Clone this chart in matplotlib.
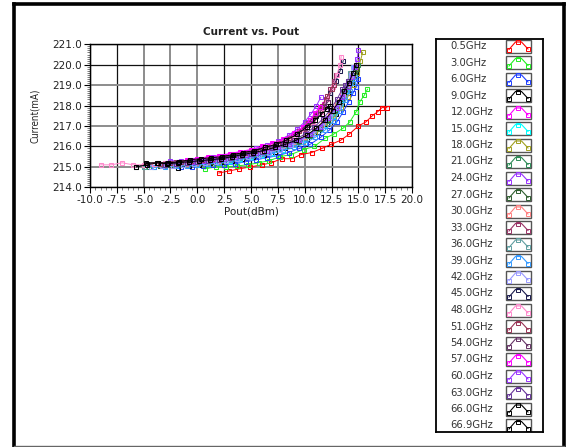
import numpy as np
import matplotlib.pyplot as plt
from matplotlib.lines import Line2D
from matplotlib.patches import Rectangle

labels = ["0.5GHz", "3.0GHz", "6.0GHz", "9.0GHz", "12.0GHz", "15.0GHz", "18.0GHz", "21.0GHz",
          "24.0GHz", "27.0GHz", "30.0GHz", "33.0GHz", "36.0GHz", "39.0GHz", "42.0GHz", "45.0GHz",
          "48.0GHz", "51.0GHz", "54.0GHz", "57.0GHz", "60.0GHz", "63.0GHz", "66.0GHz", "66.9GHz"]
colors = ["#ff0000", "#22ee22", "#1f3fff", "#000000", "#ff00ff", "#00ffff", "#a0a020", "#2e8b57",
          "#9933ff", "#2f5f2f", "#ff8080", "#993366", "#5f9ea0", "#3399ff", "#9999ff", "#1a1a4d",
          "#ff88cc", "#993355", "#663366", "#ff00ff", "#9933ff", "#663399", "#000000", "#000000"]

pout = [
    [2.0, 2.95, 3.9, 4.95, 6.0, 6.9, 7.85, 8.8, 9.65, 10.65, 11.6, 12.45, 13.35, 14.15, 15.0, 15.7, 16.3, 16.8, 17.2, 17.65],
    [0.7, 1.7, 2.7, 3.7, 4.7, 5.7, 6.7, 7.7, 8.7, 9.9, 10.9, 11.9, 12.7, 13.6, 14.2, 14.8, 15.15, 15.55, 15.85],
    [-1.5, -0.5, 0.5, 1.5, 2.5, 3.5, 4.5, 5.5, 6.5, 7.5, 8.5, 9.5, 10.5, 11.5, 12.3, 13.0, 13.6, 14.1, 14.5, 14.8, 15.0],
    [-1.8, -0.8, 0.2, 1.2, 2.2, 3.2, 4.2, 5.2, 6.2, 7.2, 8.2, 9.2, 10.2, 11.2, 12.1, 12.9, 13.5, 14.0, 14.4, 14.7, 14.85],
    [-1.0, 0.0, 1.0, 2.0, 3.0, 4.0, 5.0, 6.0, 7.0, 8.0, 9.0, 9.8, 10.5, 11.1, 11.5, 11.8],
    [-5.0, -4.0, -3.0, -2.0, -1.0, 0.0, 1.0, 2.0, 3.0, 4.0, 5.0, 6.0, 7.0, 8.0, 9.0, 10.0, 11.0, 11.9, 12.7, 13.4, 13.9, 14.3, 14.6],
    [-3.0, -2.0, -1.0, 0.0, 1.0, 2.0, 3.0, 4.0, 5.0, 6.0, 7.0, 8.0, 9.0, 10.0, 11.0, 11.9, 12.7, 13.4, 14.0, 14.5, 14.9, 15.2, 15.4],
    [-4.5, -3.5, -2.5, -1.5, -0.5, 0.5, 1.5, 2.5, 3.5, 4.5, 5.5, 6.5, 7.5, 8.5, 9.5, 10.5, 11.4, 12.2, 12.9, 13.5, 14.0, 14.4, 14.7, 15.0],
    [-2.5, -1.5, -0.5, 0.5, 1.5, 2.5, 3.5, 4.5, 5.5, 6.5, 7.5, 8.5, 9.3, 10.0, 10.6, 11.1, 11.5],
    [-3.5, -2.5, -1.5, -0.5, 0.5, 1.5, 2.5, 3.5, 4.5, 5.5, 6.5, 7.5, 8.5, 9.5, 10.5, 11.4, 12.2, 12.9, 13.5, 14.0, 14.4, 14.7, 14.9],
    [-4.0, -3.0, -2.0, -1.0, 0.0, 1.0, 2.0, 3.0, 4.0, 5.0, 6.0, 7.0, 8.0, 9.0, 10.0, 10.9, 11.7, 12.4, 13.0, 13.5, 13.9, 14.2, 14.35],
    [-3.0, -2.0, -1.0, 0.0, 1.0, 2.0, 3.0, 4.0, 5.0, 6.0, 7.0, 8.0, 9.0, 9.9, 10.7, 11.4, 12.0, 12.4, 12.7, 12.9],
    [-5.0, -4.0, -3.0, -2.0, -1.0, 0.0, 1.0, 2.0, 3.0, 4.0, 5.0, 6.0, 7.0, 8.0, 9.0, 10.0, 10.9, 11.8, 12.5, 13.1, 13.6, 14.0, 14.2],
    [-4.0, -3.0, -2.0, -1.0, 0.0, 1.0, 2.0, 3.0, 4.0, 5.0, 6.0, 7.0, 8.0, 9.0, 10.0, 11.0, 11.9, 12.7, 13.3, 13.8, 14.2, 14.5, 14.7],
    [-4.3, -3.3, -2.3, -1.3, -0.3, 0.7, 1.7, 2.7, 3.7, 4.7, 5.7, 6.7, 7.7, 8.7, 9.7, 10.7, 11.6, 12.4, 13.1, 13.6, 14.0, 14.3, 14.5],
    [-5.7, -4.7, -3.7, -2.7, -1.7, -0.7, 0.3, 1.3, 2.3, 3.3, 4.3, 5.3, 6.3, 7.3, 8.3, 9.3, 10.3, 11.1, 11.8, 12.4, 12.9, 13.3, 13.6],
    [-9.0, -8.0, -7.0, -6.0, -5.0, -4.0, -3.0, -2.0, -1.0, 0.0, 1.0, 2.0, 3.0, 4.0, 5.0, 6.0, 7.0, 8.0, 9.0, 10.0, 10.8, 11.5, 12.1, 12.6, 13.0, 13.3, 13.4],
    [-3.5, -2.5, -1.5, -0.5, 0.5, 1.5, 2.5, 3.5, 4.5, 5.5, 6.5, 7.5, 8.5, 9.5, 10.3, 11.0, 11.6, 12.1, 12.5, 12.7],
    [-2.8, -1.8, -0.8, 0.2, 1.2, 2.2, 3.2, 4.2, 5.2, 6.2, 7.2, 8.2, 9.2, 10.0, 10.7, 11.3, 11.8, 12.2],
    [-1.0, 0.0, 1.0, 2.0, 3.0, 4.0, 5.0, 6.0, 7.0, 8.0, 9.0, 9.8, 10.5, 11.0, 11.4],
    [-0.5, 0.5, 1.5, 2.5, 3.5, 4.5, 5.5, 6.5, 7.5, 8.5, 9.5, 10.5, 11.4, 12.2, 12.9, 13.5, 14.0, 14.4, 14.7, 14.9, 15.0],
    [-3.0, -2.0, -1.0, 0.0, 1.0, 2.0, 3.0, 4.0, 5.0, 6.0, 7.0, 8.0, 9.0, 10.0, 10.9, 11.7, 12.4, 13.0, 13.5, 13.8, 14.0],
    [-4.8, -3.8, -2.8, -1.8, -0.8, 0.2, 1.2, 2.2, 3.2, 4.2, 5.2, 6.2, 7.2, 8.2, 9.2, 10.2, 11.1, 11.9, 12.6, 13.2, 13.7, 14.1, 14.5, 14.8],
    [-5.7, -4.7, -3.7, -2.7, -1.7, -0.7, 0.3, 1.3, 2.3, 3.3, 4.3, 5.3, 6.3, 7.3, 8.3, 9.3, 10.2, 11.0, 11.6, 12.1, 12.4],
]

current = [
    [214.7, 214.8, 214.9, 215.0, 215.1, 215.2, 215.4, 215.4, 215.6, 215.7, 215.9, 216.1, 216.3, 216.6, 217.0, 217.2, 217.5, 217.7, 217.9, 217.9],
    [214.9, 215.0, 215.0, 215.05, 215.1, 215.2, 215.3, 215.5, 215.6, 215.85, 216.0, 216.4, 216.6, 216.9, 217.2, 217.7, 218.2, 218.5, 218.8],
    [215.0, 215.0, 215.05, 215.1, 215.1, 215.15, 215.25, 215.35, 215.45, 215.55, 215.7, 215.9, 216.1, 216.45, 216.8, 217.2, 217.7, 218.2, 218.6, 218.9, 219.3],
    [214.95, 215.05, 215.1, 215.2, 215.25, 215.3, 215.4, 215.5, 215.6, 215.75, 215.9, 216.1, 216.35, 216.7, 217.1, 217.6, 218.1, 218.6, 219.0, 219.4, 219.7],
    [215.3, 215.4, 215.45, 215.5, 215.6, 215.7, 215.8, 215.95, 216.1, 216.3, 216.6, 216.9, 217.3, 217.6, 217.9, 218.1],
    [215.0, 215.0, 215.05, 215.05, 215.1, 215.1, 215.15, 215.2, 215.3, 215.4, 215.5, 215.6, 215.7, 215.85, 216.05, 216.3, 216.65, 217.05, 217.5, 218.1, 218.7, 219.3, 219.9],
    [215.05, 215.1, 215.15, 215.2, 215.25, 215.3, 215.4, 215.5, 215.6, 215.7, 215.8, 215.95, 216.1, 216.35, 216.65, 217.0, 217.4, 217.9, 218.4, 219.0, 219.6, 220.2, 220.6],
    [215.0, 215.05, 215.1, 215.1, 215.15, 215.2, 215.25, 215.3, 215.4, 215.5, 215.6, 215.7, 215.85, 216.0, 216.2, 216.5, 216.85, 217.25, 217.75, 218.3, 218.8, 219.2, 219.6, 220.0],
    [215.3, 215.3, 215.35, 215.4, 215.5, 215.55, 215.65, 215.75, 215.9, 216.05, 216.25, 216.55, 216.85, 217.2, 217.6, 218.0, 218.4],
    [215.05, 215.1, 215.1, 215.15, 215.2, 215.25, 215.3, 215.4, 215.5, 215.6, 215.7, 215.85, 216.0, 216.25, 216.55, 216.9, 217.3, 217.8, 218.3, 218.8, 219.2, 219.5, 219.8],
    [215.0, 215.05, 215.1, 215.15, 215.2, 215.25, 215.3, 215.4, 215.5, 215.6, 215.7, 215.85, 216.0, 216.2, 216.45, 216.8, 217.2, 217.65, 218.1, 218.6, 219.0, 219.4, 219.6],
    [215.2, 215.25, 215.3, 215.35, 215.4, 215.45, 215.55, 215.65, 215.75, 215.9, 216.05, 216.25, 216.5, 216.85, 217.3, 217.8, 218.3, 218.8, 219.2, 219.5],
    [215.0, 215.0, 215.05, 215.1, 215.1, 215.15, 215.2, 215.25, 215.35, 215.45, 215.55, 215.65, 215.8, 215.95, 216.15, 216.4, 216.75, 217.15, 217.6, 218.1, 218.7, 219.2, 219.6],
    [215.0, 215.0, 215.05, 215.05, 215.1, 215.15, 215.2, 215.25, 215.35, 215.45, 215.55, 215.65, 215.8, 215.95, 216.15, 216.45, 216.8, 217.25, 217.75, 218.25, 218.7, 219.1, 219.4],
    [215.0, 215.05, 215.05, 215.1, 215.15, 215.2, 215.25, 215.3, 215.4, 215.5, 215.6, 215.7, 215.85, 216.05, 216.3, 216.6, 217.0, 217.45, 217.95, 218.5, 219.0, 219.5, 219.9],
    [215.0, 215.15, 215.2, 215.2, 215.25, 215.3, 215.35, 215.4, 215.5, 215.6, 215.7, 215.8, 215.95, 216.1, 216.35, 216.65, 217.05, 217.5, 218.0, 218.6, 219.2, 219.7, 220.2],
    [215.1, 215.1, 215.2, 215.1, 215.1, 215.15, 215.2, 215.2, 215.3, 215.35, 215.4, 215.45, 215.55, 215.65, 215.75, 215.85, 216.0, 216.2, 216.45, 216.8, 217.2, 217.7, 218.3, 218.9, 219.5, 220.0, 220.4],
    [215.15, 215.2, 215.25, 215.3, 215.35, 215.4, 215.5, 215.6, 215.7, 215.8, 215.95, 216.15, 216.4, 216.75, 217.15, 217.55, 218.0, 218.45, 218.8, 219.0],
    [215.2, 215.25, 215.3, 215.35, 215.4, 215.45, 215.55, 215.65, 215.75, 215.9, 216.05, 216.3, 216.6, 216.9, 217.25, 217.6, 217.95, 218.2],
    [215.35, 215.4, 215.5, 215.55, 215.65, 215.75, 215.85, 216.0, 216.15, 216.35, 216.65, 216.95, 217.3, 217.65, 217.95],
    [215.25, 215.3, 215.35, 215.4, 215.5, 215.6, 215.7, 215.8, 215.95, 216.1, 216.3, 216.6, 216.95, 217.4, 217.9, 218.4, 218.9, 219.4, 219.9, 220.3, 220.7],
    [215.1, 215.15, 215.2, 215.25, 215.3, 215.35, 215.45, 215.55, 215.65, 215.75, 215.9, 216.1, 216.3, 216.6, 216.95, 217.35, 217.8, 218.3, 218.8, 219.0, 219.2],
    [215.2, 215.2, 215.15, 215.2, 215.25, 215.3, 215.35, 215.4, 215.5, 215.6, 215.7, 215.8, 215.95, 216.1, 216.3, 216.55, 216.9, 217.3, 217.75, 218.2, 218.7, 219.1, 219.6, 220.0],
    [215.0, 215.1, 215.2, 215.2, 215.25, 215.35, 215.4, 215.45, 215.5, 215.6, 215.7, 215.8, 215.95, 216.1, 216.3, 216.6, 216.95, 217.3, 217.6, 217.85, 218.0],
]

x_ticks = np.arange(-10, 20.1, 2.5)
y_ticks = np.arange(214, 221.1, 1.0)
x_gray = [-5.0, -2.5, 0.0, 7.5, 10.0]
y_gray = [215.0, 217.0, 219.0]
txt = "#222222"

fig = plt.figure(figsize=(5.69, 4.47), dpi=100)

# outer frame
fig.add_artist(Line2D([13.5/569, 13.5/569], [0, 1 - 3.5/447], color="black", lw=2.6))
fig.add_artist(Line2D([13.5/569, 564/569], [1 - 3.5/447, 1 - 3.5/447], color="black", lw=2.6))
fig.add_artist(Line2D([564/569, 564/569], [0, 1 - 3.5/447], color="black", lw=2.6))
fig.add_artist(Line2D([13.5/569, 564/569], [1 - 445.5/447, 1 - 445.5/447], color="#666666", lw=1))

ax = fig.add_axes([90/569, 1 - 187.3/447, 322/569, 143/447])
for i in range(len(labels)):
    ax.plot(pout[i], current[i], "-s", color=colors[i], lw=0.7, ms=2.9,
            mfc="none", mew=0.75)

ax.set_xlim(-10, 20)
ax.set_ylim(214, 221)
ax.set_xticks(x_ticks)
ax.set_yticks(y_ticks)
ax.set_xticklabels(["%.1f" % v for v in x_ticks])
ax.set_yticklabels(["%.1f" % v for v in y_ticks])
ax.set_xticks(np.arange(-10, 20.01, 0.5), minor=True)
ax.set_yticks(np.arange(214, 221.01, 0.1), minor=True)
ax.tick_params(which="major", length=4, width=0.8, labelsize=7.5, labelcolor=txt, pad=1.5)
ax.tick_params(which="minor", length=2, width=0.6, color="#666666")
ax.tick_params(top=False, right=False)
ax.grid(True, which="major")
for v, gl in zip(x_ticks, ax.get_xgridlines()):
    if v in x_gray:
        gl.set_color("#8c8c8c"); gl.set_linewidth(1.4)
    else:
        gl.set_color("#111111"); gl.set_linewidth(0.9)
for v, gl in zip(y_ticks, ax.get_ygridlines()):
    if v in y_gray:
        gl.set_color("#8c8c8c"); gl.set_linewidth(1.4)
    else:
        gl.set_color("#111111"); gl.set_linewidth(0.9)
ax.set_axisbelow(True)
for s in ax.spines.values():
    s.set_color("black")
    s.set_linewidth(1.0)

ax.set_title("Current vs. Pout", fontsize=7.5, fontweight="bold", color=txt, pad=7)
ax.set_xlabel("Pout(dBm)", fontsize=7.5, color=txt, labelpad=1)
ax.set_ylabel("Current(mA)", fontsize=7, color=txt, labelpad=9, fontstretch="condensed")

# legend panel
lg = fig.add_axes([436/569, 1 - 432/447, 107/569, 393/447])
lg.set_xlim(436, 543)
lg.set_ylim(432, 39)
lg.set_xticks([])
lg.set_yticks([])
for s in lg.spines.values():
    s.set_color("black")
    s.set_linewidth(1.3)
for i in range(len(labels)):
    yc = 46 + i * 16.5
    lg.text(450.5, yc, labels[i], fontsize=7.2, color="#333333", va="center", ha="left")
    lg.add_patch(Rectangle((506, yc - 6.5), 25, 13, fill=False, ec="#555555", lw=1.0))
    lg.plot([509, 515.5, 521.5, 528], [yc + 3.5, yc - 4, yc - 4, yc + 3],
            color=colors[i], lw=0.8)
    lg.plot([509, 518.5, 528], [yc + 3.5, yc - 4, yc + 3], "s", color=colors[i],
            ms=2.2, mfc="none", mew=0.7)

fig.savefig("out.png", dpi=100)
